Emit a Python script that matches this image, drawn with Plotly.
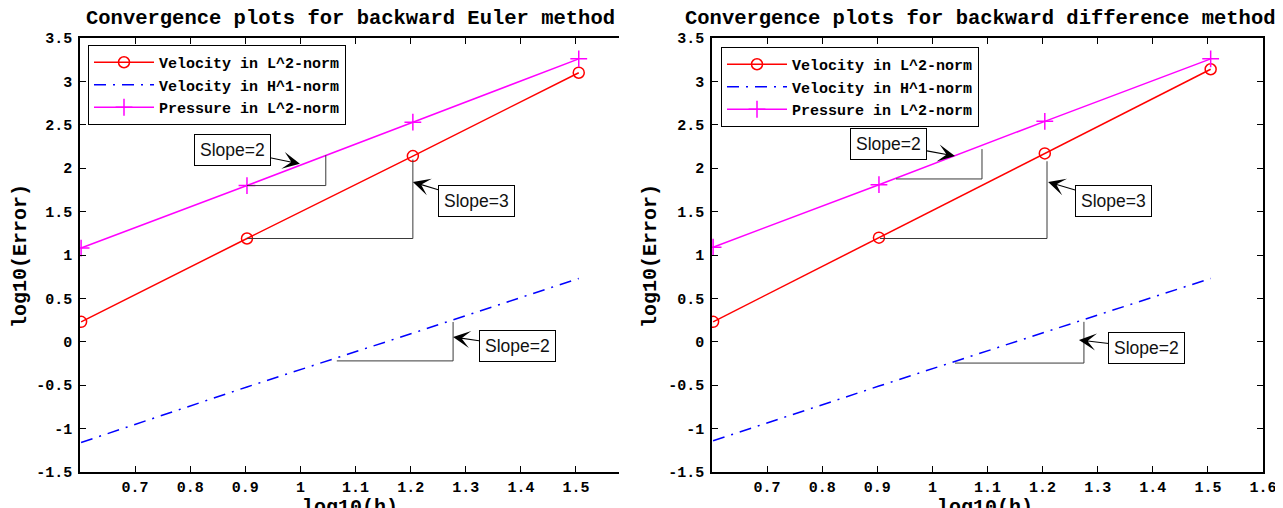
import plotly.graph_objects as go

# ---------------- data ----------------
log_h = [0.602, 0.903, 1.204, 1.505]

# backward Euler (left)
be_vel_l2 = [0.23, 1.19, 2.14, 3.10]
be_vel_h1 = [-1.16, -0.52, 0.10, 0.73]
be_pre_l2 = [1.08, 1.80, 2.53, 3.26]

# backward difference (right)
bd_vel_l2 = [0.23, 1.20, 2.17, 3.14]
bd_vel_h1 = [-1.14, -0.51, 0.11, 0.73]
bd_pre_l2 = [1.09, 1.81, 2.54, 3.26]

series_names = ["Velocity in L^2-norm", "Velocity in H^1-norm", "Pressure in L^2-norm"]
titles = ["Convergence plots for backward Euler method",
          "Convergence plots for backward difference method"]

# slope triangles (x list, y list)
be_tri_pre = ([0.903, 1.046, 1.046], [1.80, 1.80, 2.15])
be_tri_vel = ([0.903, 1.204, 1.204], [1.19, 1.19, 2.10])
be_tri_h1 = ([1.066, 1.277, 1.277], [-0.22, -0.22, 0.228])
bd_tri_pre = ([0.934, 1.090, 1.090], [1.876, 1.876, 2.22])
bd_tri_vel = ([0.905, 1.208, 1.208], [1.19, 1.19, 2.08])
bd_tri_h1 = ([1.041, 1.275, 1.275], [-0.245, -0.245, 0.23])

# slope labels: (text, head x, head y, text x, text y)
be_labels = [("Slope=2", 0.999, 2.05, 0.876, 2.21),
             ("Slope=3", 1.204, 1.84, 1.319, 1.62),
             ("Slope=2", 1.277, 0.055, 1.393, -0.05)]
bd_labels = [("Slope=2", 1.041, 2.14, 0.921, 2.28),
             ("Slope=3", 1.210, 1.84, 1.328, 1.62),
             ("Slope=2", 1.266, 0.02, 1.389, -0.07)]

y_tickvals = [-1.5, -1, -0.5, 0, 0.5, 1, 1.5, 2, 2.5, 3, 3.5]
y_ticktext = ["-1.5", "-1", "-0.5", "0", "0.5", "1", "1.5", "2", "2.5", "3", "3.5"]
x_tickvals_left = [0.7, 0.8, 0.9, 1.0, 1.1, 1.2, 1.3, 1.4, 1.5]
x_ticktext_left = ["0.7", "0.8", "0.9", "1", "1.1", "1.2", "1.3", "1.4", "1.5"]
x_tickvals_right = [0.7, 0.8, 0.9, 1.0, 1.1, 1.2, 1.3, 1.4, 1.5, 1.6]
x_ticktext_right = ["0.7", "0.8", "0.9", "1", "1.1", "1.2", "1.3", "1.4", "1.5", "1.6"]

# ---------------- figure ----------------
# the page body has an 8px margin, so the figure sits at (8, 8) in the window
OFF = 8
FW, FH = 1283 - OFF, 508 - OFF


def fx(px):
    return (px - OFF) / FW


def fy(py):
    return 1 - (py - OFF) / FH


MONO = "Liberation Mono"
fig = go.Figure()


def add_panel(xa, ya, leg, vl2, vh1, pl2, tris):
    fig.add_trace(go.Scatter(x=log_h, y=vl2, name=series_names[0], mode="lines+markers",
                             line=dict(color="#ff0000", width=1.5),
                             marker=dict(symbol="circle-open", size=11, color="#ff0000",
                                         line=dict(width=1.5, color="#ff0000")),
                             xaxis=xa, yaxis=ya, legend=leg))
    fig.add_trace(go.Scatter(x=log_h, y=vh1, name=series_names[1], mode="lines",
                             line=dict(color="#0000ff", width=1.5, dash="12px,7px,2px,7px"),
                             xaxis=xa, yaxis=ya, legend=leg))
    fig.add_trace(go.Scatter(x=log_h, y=pl2, name=series_names[2], mode="lines+markers",
                             line=dict(color="#ff00ff", width=1.5),
                             marker=dict(symbol="cross-thin-open", size=12, color="#ff00ff",
                                         line=dict(width=1.5, color="#ff00ff")),
                             xaxis=xa, yaxis=ya, legend=leg))
    for tx, ty in tris:
        fig.add_trace(go.Scatter(x=tx, y=ty, mode="lines", showlegend=False,
                                 line=dict(color="#3a3a3a", width=1),
                                 hoverinfo="skip", xaxis=xa, yaxis=ya))


add_panel("x", "y", "legend", be_vel_l2, be_vel_h1, be_pre_l2,
          [be_tri_pre, be_tri_vel, be_tri_h1])
add_panel("x2", "y2", "legend2", bd_vel_l2, bd_vel_h1, bd_pre_l2,
          [bd_tri_pre, bd_tri_vel, bd_tri_h1])

tickfont = dict(family=MONO, size=15, color="black", weight="bold")
ydom = [fy(472), fy(38)]


def xaxis(dom, rng, tv, tt, anchor):
    return dict(domain=dom, range=rng, tickvals=tv, ticktext=tt, showgrid=False,
                zeroline=False, showline=True, linecolor="black", linewidth=1.5,
                mirror="ticks", ticks="inside", ticklen=6, tickwidth=1, tickcolor="black",
                tickfont=tickfont, ticklabelstandoff=0, automargin=False, fixedrange=True,
                anchor=anchor)


def yaxis(anchor, mirror):
    return dict(domain=ydom, range=[-1.5, 3.5], tickvals=y_tickvals, ticktext=y_ticktext,
                showgrid=False, zeroline=False, showline=True, linecolor="black",
                linewidth=1.5, mirror=mirror, ticks="inside", ticklen=6, tickwidth=1,
                tickcolor="black", tickfont=tickfont, ticklabelstandoff=3,
                automargin=False, anchor=anchor, fixedrange=True)


x_left = xaxis([fx(80), fx(619)], [0.6, 0.6 + 539 / 551.1], x_tickvals_left, x_ticktext_left, "y")
x_right = xaxis([fx(712), fx(1263)], [0.6, 1.6], x_tickvals_right, x_ticktext_right, "y2")

legfont = dict(family=MONO, size=15, color="black", weight="bold")

annotations = []
# titles
for txt, cx in zip(titles, [350, 980]):
    annotations.append(dict(text=txt, x=fx(cx), y=fy(18), xref="paper", yref="paper",
                            xanchor="center", yanchor="middle", showarrow=False,
                            font=dict(family=MONO, size=20.5, color="black", weight="bold")))
# axis titles
for cx in [349.5, 985]:
    annotations.append(dict(text="log10(h)", x=fx(cx), y=fy(507), xref="paper", yref="paper",
                            xanchor="center", yanchor="middle", showarrow=False,
                            font=dict(family=MONO, size=20, color="black", weight="bold")))
for cx in [20, 650]:
    annotations.append(dict(text="log10(Error)", x=fx(cx), y=fy(256), xref="paper", yref="paper",
                            xanchor="center", yanchor="middle", showarrow=False, textangle=-90,
                            font=dict(family=MONO, size=20, color="black", weight="bold")))
# slope labels
for labels, xr, yr in [(be_labels, "x", "y"), (bd_labels, "x2", "y2")]:
    for txt, hx, hy, tx, ty in labels:
        annotations.append(dict(text=txt, x=hx, y=hy, ax=tx, ay=ty, xref=xr, yref=yr,
                                axref=xr, ayref=yr, showarrow=True, arrowhead=3,
                                arrowsize=2.6, arrowwidth=1.1, arrowcolor="black",
                                bordercolor="black", borderwidth=1, borderpad=5,
                                bgcolor="white",
                                font=dict(family="Liberation Sans", size=17.5, color="#111")))

fig.update_layout(
    template="none",
    width=FW, height=FH, autosize=False,
    margin=dict(l=0, r=0, t=0, b=0),
    paper_bgcolor="white", plot_bgcolor="white",
    xaxis=x_left, yaxis=yaxis("x", False),
    xaxis2=x_right, yaxis2=yaxis("x2", "ticks"),
    legend=dict(x=fx(88), y=fy(45), xanchor="left", yanchor="top",
                bordercolor="black", borderwidth=1, bgcolor="white",
                font=legfont, tracegroupgap=0, itemwidth=60),
    legend2=dict(x=fx(721), y=fy(47), xanchor="left", yanchor="top",
                 bordercolor="black", borderwidth=1, bgcolor="white",
                 font=legfont, tracegroupgap=0, itemwidth=60),
    annotations=annotations,
    showlegend=True,
)

fig.write_html("out.html")
